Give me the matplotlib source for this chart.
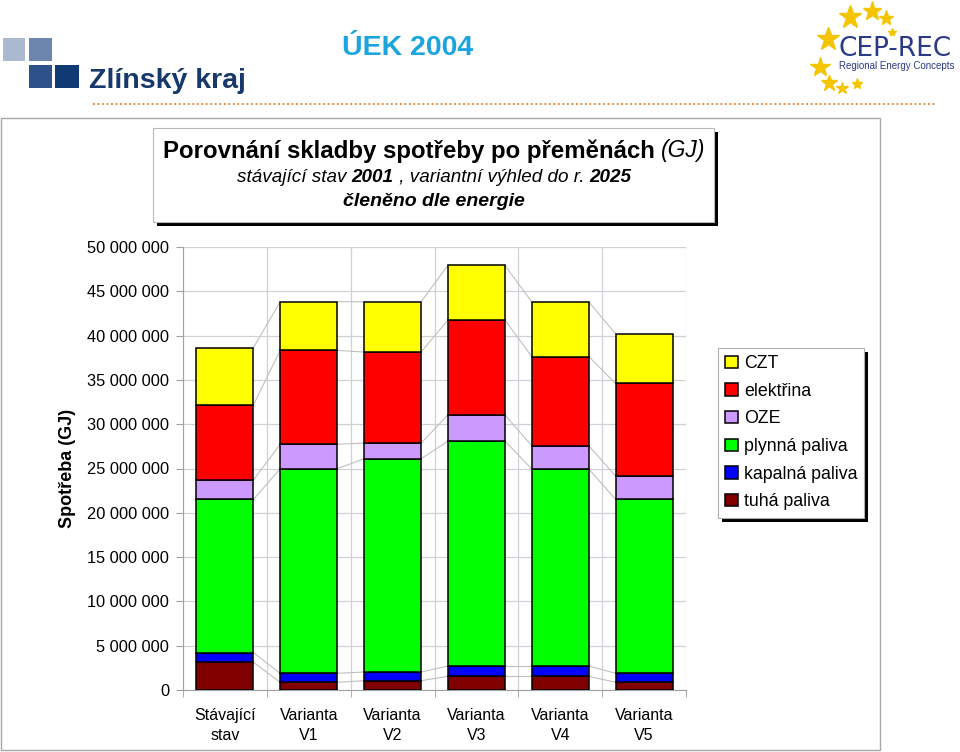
import matplotlib
matplotlib.use("Agg")
import matplotlib.pyplot as plt
from matplotlib.patches import Rectangle
import numpy as np

plt.rcParams['font.family'] = ['Liberation Sans', 'DejaVu Sans']

categories = ["Stávající\nstav", "Varianta\nV1", "Varianta\nV2", "Varianta\nV3", "Varianta\nV4", "Varianta\nV5"]
# stacked from bottom to top, values in GJ
tuha = [3.13e6, 0.87e6, 1.05e6, 1.54e6, 1.54e6, 0.87e6]
kapalna = [1.08e6, 1.01e6, 0.98e6, 1.17e6, 1.17e6, 1.01e6]
plynna = [17.3e6, 23.1e6, 24.07e6, 25.39e6, 22.23e6, 19.64e6]
oze = [2.2e6, 2.75e6, 1.77e6, 2.94e6, 2.63e6, 2.63e6]
elektrina = [8.47e6, 10.6e6, 10.27e6, 10.72e6, 10.07e6, 10.45e6]
czt = [6.46e6, 5.5e6, 5.68e6, 6.17e6, 6.17e6, 5.6e6]

series = [("tuhá paliva", tuha, "#800000"),
          ("kapalná paliva", kapalna, "#0000ff"),
          ("plynná paliva", plynna, "#00ff00"),
          ("OZE", oze, "#cc99ff"),
          ("elektřina", elektrina, "#ff0000"),
          ("CZT", czt, "#ffff00")]

W, H = 960, 752
fig = plt.figure(figsize=(W / 100, H / 100), dpi=100)

# background axes in pixel coordinates (top-left origin)
bg = fig.add_axes([0, 0, 1, 1], zorder=-1)
bg.set_xlim(0, W)
bg.set_ylim(H, 0)
bg.axis('off')
bg.patch.set_visible(False)

# --- header ---
for (x0, y0, x1, y1, c) in [(3, 38, 25, 61, "#aab8d0"), (29, 38, 52, 61, "#6c86ad"),
                            (29, 65, 52, 88, "#2d5189"), (55, 65, 79, 88, "#0f3a73")]:
    bg.add_patch(Rectangle((x0, y0), x1 - x0, y1 - y0, color=c, lw=0))
bg.text(89, 88, "Zlínský kraj", fontsize=20.5, fontweight='bold', color="#17386b",
        ha='left', va='baseline')
bg.text(408, 48, "ÚEK 2004", fontsize=20.5, fontweight='bold', color="#1ba4de",
        ha='center', va='center')
stars = [(850, 17, 17), (872, 11, 14), (886, 18, 11), (892, 32, 6), (828, 39, 17),
         (820, 67, 15), (829, 83, 12), (842, 88, 9), (857, 84, 8)]
for sx, sy, ss in stars:
    bg.plot(sx, sy, marker='*', ms=ss, color="#f5c400", mec="#f5c400")
bg.text(839, 56, "CEP-REC", fontsize=19, color="#2b3a87", family='DejaVu Sans',
        ha='left', va='baseline')
bg.text(839, 69, "Regional Energy Concepts", fontsize=7, color="#2b3a87",
        ha='left', va='baseline')
bg.plot([93, 935], [103.5, 103.5], color="#e8822a", lw=1.3, ls=(0, (1, 1.5)))

# frame around chart
bg.add_patch(Rectangle((0.5, 118), 879.5, 632, fill=False, ec="#a8a8a8", lw=1))

# title box with shadow
bg.add_patch(Rectangle((157, 132), 561, 94, color="black", lw=0))
bg.add_patch(Rectangle((153, 128), 561, 94, fc="white", ec="#b8b8b8", lw=0.8))

bg.text(655, 151, "Porovnání skladby spotřeby po přeměnách", fontsize=17.3,
        fontweight='bold', ha='right', va='center')
bg.text(661, 150, "(GJ)", fontsize=16.5, style='italic', ha='left', va='center')

fig.canvas.draw()
renderer = fig.canvas.get_renderer()
pieces = [("stávající stav ", 'normal'), ("2001", 'bold'), (" , variantní výhled do r. ", 'normal'),
          ("2025", 'bold')]
texts = []
for s, w in pieces:
    t = bg.text(0, 177, s, fontsize=13.6, style='italic', fontweight=w, ha='left', va='center')
    texts.append(t)
widths = [t.get_window_extent(renderer).width for t in texts]
x = 434 - sum(widths) / 2
for t, w in zip(texts, widths):
    t.set_x(x)
    x += w
bg.text(434, 201, "členěno dle energie", fontsize=14, style='italic', fontweight='bold',
        ha='center', va='center')

# --- chart ---
ax = fig.add_axes([183 / W, 1 - 690 / H, (686 - 183) / W, (690 - 247) / H], zorder=1)
xs = np.arange(len(categories))
bw = 0.68
bottom = np.zeros(len(categories))
handles = []
for name, vals, col in series:
    vals = np.array(vals)
    b = ax.bar(xs, vals, bw, bottom=bottom, color=col, edgecolor='black', lw=1.1,
               label=name, zorder=3)
    handles.append(b)
    top = bottom + vals
    for i in range(len(xs) - 1):
        ax.plot([xs[i] + bw / 2, xs[i + 1] - bw / 2], [top[i], top[i + 1]],
                color="#c0c0c0", lw=0.8, zorder=2)
    bottom = top

ax.set_xlim(-0.5, len(categories) - 0.5)
ax.set_ylim(0, 50e6)
yt = np.arange(0, 50e6 + 1, 5e6)
ax.set_yticks(yt)
ax.set_yticklabels([f"{int(v):,}".replace(",", " ") for v in yt])
ax.set_xticks(xs)
ax.set_xticklabels(categories, linespacing=1.45)
ax.set_xticks(np.arange(-0.5, len(categories)), minor=True)
ax.tick_params(axis='x', which='major', length=0, pad=13, labelsize=11.5)
ax.tick_params(axis='x', which='minor', length=5, color="#a0a0a0", direction='out')
ax.tick_params(axis='y', length=5, color="#a0a0a0", pad=5, labelsize=11.8)
ax.grid(axis='y', color="#d0d0d8", lw=0.9, zorder=0)
ax.grid(axis='x', which='minor', color="#d0d0d8", lw=0.9, zorder=0)
ax.set_axisbelow(True)
for sp in ['top', 'right']:
    ax.spines[sp].set_visible(False)
for sp in ['left', 'bottom']:
    ax.spines[sp].set_color("#a0a0a0")
ax.set_ylabel("Spotřeba (GJ)", fontsize=13, fontweight='bold')
ax.yaxis.set_label_coords(-0.213, 0.5)

leg = ax.legend(handles[::-1], [s[0] for s in series][::-1], loc='upper left',
                bbox_to_anchor=(718 / W, 1 - 348 / H), bbox_transform=fig.transFigure,
                borderaxespad=0, fancybox=False, edgecolor="#b0b0b0", framealpha=1,
                fontsize=12.8, handlelength=0.7, handleheight=0.7, handletextpad=0.35,
                labelspacing=0.6, borderpad=0.4)
leg.get_frame().set_linewidth(0.8)

fig.canvas.draw()
bb = leg.get_window_extent(renderer)
# display -> bg pixel coords (y flipped)
bg.add_patch(Rectangle((bb.x0 + 4, H - bb.y1 + 4), bb.width, bb.height, color='black', lw=0))

fig.savefig("out.png", dpi=100)
